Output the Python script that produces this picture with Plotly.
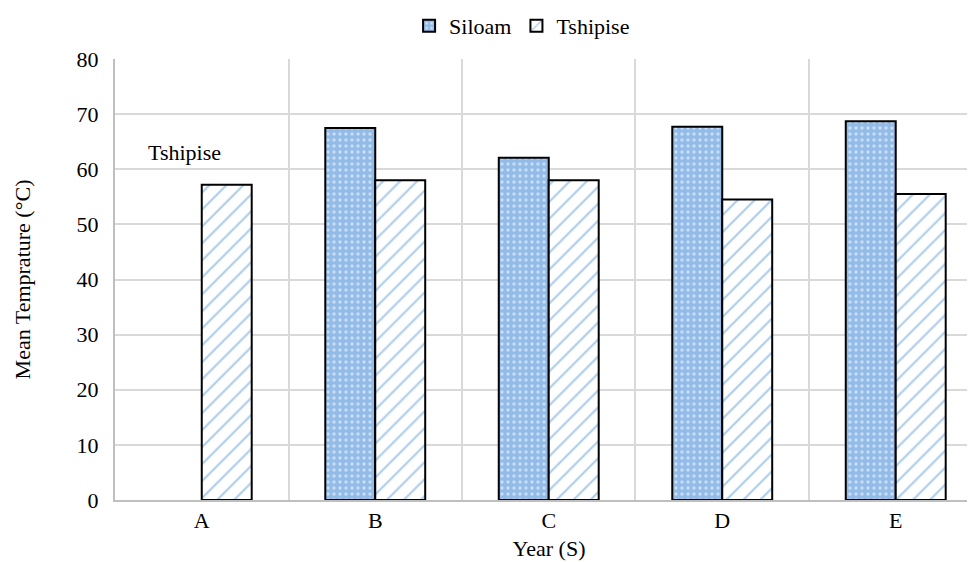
import plotly.graph_objects as go

categories = ["A", "B", "C", "D", "E"]
siloam = [None, 67.5, 62.1, 67.7, 68.7]
tshipise = [57.2, 58.0, 58.0, 54.5, 55.5]
y_ticks = [0, 10, 20, 30, 40, 50, 60, 70, 80]

FONT = "Liberation Serif, Times New Roman, serif"
FS = 22

fig = go.Figure()
fig.add_trace(go.Bar(
    name="Siloam", x=categories, y=siloam,
    marker=dict(
        color="#a4c6ea",
        line=dict(color="black", width=2),
        pattern=dict(shape=".", fgcolor="white", bgcolor="#92bbe8", size=6, solidity=0.25),
    ),
))
fig.add_trace(go.Bar(
    name="Tshipise", x=categories, y=tshipise,
    marker=dict(
        color="white",
        line=dict(color="black", width=2),
        pattern=dict(shape="/", fgcolor="#5b9bd5", bgcolor="white", size=12, solidity=0.18),
    ),
))

fig.add_annotation(x=-0.097, y=63.0, text="Tshipise", showarrow=False,
                   font=dict(family=FONT, size=FS, color="black"))

fig.update_layout(
    width=975, height=562,
    margin=dict(l=107, r=0, t=51, b=70, autoexpand=False),
    paper_bgcolor="white", plot_bgcolor="white",
    font=dict(family=FONT, size=FS, color="black"),
    barmode="group", bargap=0.424, bargroupgap=0,
    showlegend=True,
    legend=dict(orientation="h", x=0.469, xanchor="center",
                y=1.075, yanchor="middle", font=dict(family=FONT, size=FS, color="black"),
                itemwidth=30, traceorder="normal", bgcolor="rgba(0,0,0,0)"),
    xaxis=dict(
        range=[-0.5, 4.503], tickson="boundaries", ticks="",
        showgrid=True, gridcolor="#d9d9d9", gridwidth=2,
        showline=True, linecolor="#bfbfbf", linewidth=2,
        title=dict(text="Year (S)", font=dict(family=FONT, size=FS), standoff=8),
        tickfont=dict(family=FONT, size=FS),
    ),
    yaxis=dict(
        range=[0, 80], tickvals=y_ticks, ticks="",
        showgrid=True, gridcolor="#d9d9d9", gridwidth=2,
        showline=True, linecolor="#bfbfbf", linewidth=2,
        zeroline=False,
        ticklabelstandoff=10,
        title=dict(text="Mean Temprature (°C)", font=dict(family=FONT, size=FS), standoff=40),
        tickfont=dict(family=FONT, size=FS),
    ),
)

fig.write_html("out.html")
